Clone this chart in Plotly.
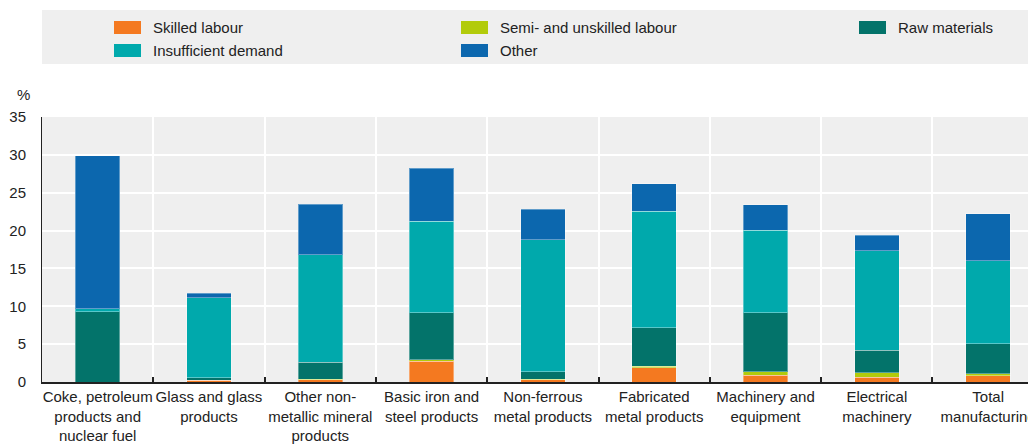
import plotly.graph_objects as go

categories = [
    "Coke, petroleum<br>products and<br>nuclear fuel",
    "Glass and glass<br>products",
    "Other non-<br>metallic mineral<br>products",
    "Basic iron and<br>steel products",
    "Non-ferrous<br>metal products",
    "Fabricated<br>metal products",
    "Machinery and<br>equipment",
    "Electrical<br>machinery",
    "Total<br>manufacturing",
]
skilled = [0.0, 0.2, 0.3, 2.75, 0.3, 1.9, 0.9, 0.65, 0.85]
semi = [0.0, 0.05, 0.05, 0.2, 0.05, 0.15, 0.45, 0.55, 0.25]
raw = [9.3, 0.3, 2.25, 6.2, 1.0, 5.1, 7.8, 3.0, 3.95]
insufficient = [0.35, 10.6, 14.2, 12.1, 17.45, 15.4, 10.9, 13.15, 10.95]
other = [20.2, 0.6, 6.7, 6.95, 4.0, 3.65, 3.35, 2.0, 6.25]

series_names = ["Skilled labour", "Semi- and unskilled labour", "Raw materials",
                "Insufficient demand", "Other"]
series_values = [skilled, semi, raw, insufficient, other]
colors = ["#F47920", "#B2CB0B", "#03736A", "#00A9AC", "#0C67AE"]

FONT = "Liberation Sans, Arial, sans-serif"
FS = 15
OFF = 8  # default page margin of the html body
W, H = 1036 - OFF, 445 - OFF
ML, MR, MT = 42 - OFF, 0, 117 - OFF
MB = H - (382 - OFF)
PW, PH = W - ML - MR, H - MT - MB


def px_x(x):
    # page pixel -> paper coordinate
    return (x - OFF - ML) / PW


def px_y(y):
    return (H - MB - (y - OFF)) / PH


fig = go.Figure()
for name, vals, col in zip(series_names, series_values, colors):
    fig.add_trace(go.Bar(
        x=categories, y=vals, name=name, width=0.4, showlegend=False,
        marker=dict(color=col, line=dict(color="rgba(255,255,255,0.35)", width=1)),
    ))

shapes = [dict(type="rect", xref="paper", yref="paper", x0=0, x1=1,
               y0=px_y(64), y1=px_y(10), fillcolor="#EFEFEF", line=dict(width=0),
               layer="below")]
annotations = []
legend_pos = [(114, 27.5), (461, 27.5), (859, 27.5), (114, 50.5), (461, 50.5)]
for (lx, ly), name, col in zip(legend_pos, series_names, colors):
    shapes.append(dict(type="rect", xref="paper", yref="paper",
                       x0=px_x(lx), x1=px_x(lx + 27), y0=px_y(ly + 6.5), y1=px_y(ly - 6.5),
                       fillcolor=col, line=dict(width=0)))
    annotations.append(dict(xref="paper", yref="paper", x=px_x(lx + 37), y=px_y(ly),
                            xanchor="left", yanchor="middle", text=name, showarrow=False,
                            font=dict(family=FONT, size=FS, color="#222")))
annotations.append(dict(xref="paper", yref="paper", x=px_x(23), y=px_y(94),
                        xanchor="center", yanchor="middle", text="%", showarrow=False,
                        font=dict(family=FONT, size=FS, color="#222")))

fig.update_layout(
    width=W, height=H, barmode="stack",
    margin=dict(l=ML, r=MR, t=MT, b=MB, pad=0),
    plot_bgcolor="#EFEFEF", paper_bgcolor="white",
    font=dict(family=FONT, size=FS, color="#222"),
    shapes=shapes, annotations=annotations,
    xaxis=dict(type="category", range=[-0.5, 8.43], tickson="boundaries",
               ticks="inside", ticklen=5, tickcolor="#222", tickwidth=2,
               showgrid=True, gridcolor="white", gridwidth=2,
               showline=True, linecolor="#222", linewidth=2,
               tickangle=0, automargin=False,
               tickfont=dict(family=FONT, size=FS, color="#222")),
    yaxis=dict(range=[0, 35], dtick=5, showgrid=True, gridcolor="white", gridwidth=2,
               showline=True, linecolor="#222", linewidth=1, zeroline=False,
               ticks="", ticklabelstandoff=12, automargin=False,
               tickfont=dict(family=FONT, size=FS, color="#222")),
)

fig.write_html("out.html")
